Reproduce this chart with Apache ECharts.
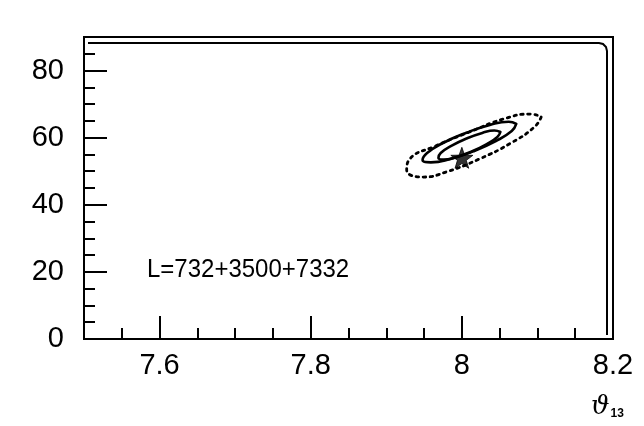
<!DOCTYPE html>
<html>
<head>
<meta charset="utf-8">
<script src="https://cdn.jsdelivr.net/npm/echarts@6/dist/echarts.min.js"></script>
<style>
  html, body { margin: 0; padding: 0; background: #fff; }
  #chart { width: 644px; height: 426px; }
</style>
</head>
<body>
<div id="chart"></div>
<script>
// Axis ticks
const xMajorTicks = [7.6, 7.8, 8.0, 8.2];
const xMinorTicks = [7.55, 7.65, 7.7, 7.75, 7.85, 7.9, 7.95, 8.05, 8.1, 8.15];
const yRange = [0, 90];
const xRange = [7.5, 8.2];

// Confidence contours in (theta13, y) — closed loops
const innerContour = [
  [8.051, 61.69], [8.047, 60.21], [8.033, 58.08], [8.013, 55.89],
  [7.992, 54.20], [7.976, 53.48], [7.969, 53.93], [7.972, 55.41],
  [7.986, 57.53], [8.006, 59.73], [8.027, 61.41], [8.043, 62.13],
  [8.051, 61.69]
];
const middleContour = [
  [8.072, 64.09], [8.066, 61.98], [8.045, 58.99], [8.015, 55.92],
  [7.984, 53.60], [7.959, 52.65], [7.948, 53.31], [7.954, 55.42],
  [7.975, 58.41], [8.006, 61.48], [8.037, 63.80], [8.062, 64.76],
  [8.072, 64.09]
];
const outerContour = [
  [8.105, 66.15], [8.096, 63.17], [8.065, 58.40], [8.023, 53.64],
  [7.979, 49.76], [7.949, 48.27], [7.927, 50.36], [7.931, 53.64],
  [7.965, 57.51], [8.010, 61.68], [8.055, 65.55], [8.091, 67.04],
  [8.105, 66.15]
];
// Input (true) point
const truePoint = [[8.0, 54.0]];

const baselineLabel = 'L=732+3500+7332';

const FONT = '"Liberation Sans", Arial, sans-serif';
const starPath = 'path://M0,-10L2.35,-3.24L9.51,-3.09L3.8,1.24L5.88,8.09L0,4L-5.88,8.09L-3.8,1.24L-9.51,-3.09L-2.35,-3.24Z';

const chart = echarts.init(document.getElementById('chart'), null, { renderer: 'canvas' });

const contourLine = (data, type) => ({
  type: 'line',
  data: data,
  smooth: 0.5,
  symbol: 'none',
  silent: true,
  animation: false,
  lineStyle: { color: '#000', width: type === 'solid' ? 2.6 : 2.8, type: type, cap: 'round' },
  z: 3
});

chart.setOption({
  backgroundColor: '#fff',
  animation: false,
  grid: {
    left: 84, right: 31, top: 37, bottom: 87,
    show: true, borderColor: '#000', borderWidth: 2, backgroundColor: 'transparent'
  },
  xAxis: [
    {
      type: 'value', min: xRange[0], max: xRange[1], position: 'bottom',
      axisLine: { show: false },
      splitLine: { show: false },
      axisTick: { show: true, inside: true, length: 23, customValues: xMajorTicks,
                  lineStyle: { color: '#000', width: 2 } },
      axisLabel: { customValues: xMajorTicks, margin: 12, color: '#000',
                   fontFamily: FONT, fontSize: 29 }
    },
    {
      type: 'value', min: xRange[0], max: xRange[1], position: 'bottom',
      axisLine: { show: false },
      splitLine: { show: false },
      axisTick: { show: true, inside: true, length: 11, customValues: xMinorTicks,
                  lineStyle: { color: '#000', width: 2 } },
      axisLabel: { show: false }
    }
  ],
  yAxis: {
    type: 'value', min: yRange[0], max: yRange[1], interval: 20,
    axisLine: { show: false },
    splitLine: { show: false },
    axisTick: { show: true, inside: true, length: 23, lineStyle: { color: '#000', width: 2 } },
    minorTick: { show: true, splitNumber: 4, length: 11, lineStyle: { color: '#000', width: 2 } },
    axisLabel: { showMaxLabel: false, margin: 20, color: '#000', fontFamily: FONT, fontSize: 29 }
  },
  graphic: [
    {
      // inner rounded frame line along the top and right edges
      type: 'polyline',
      shape: { points: [[88, 43], [599, 43], [603, 44], [606, 47], [607, 51], [607, 335]] },
      style: { stroke: '#000', lineWidth: 2, fill: null },
      silent: true
    },
    {
      type: 'text', x: 147, y: 257, scaleY: 1.1, silent: true,
      style: { text: baselineLabel, fill: '#000', font: '24px ' + FONT }
    },
    {
      type: 'text', left: 591, top: 394, silent: true,
      style: {
        text: '{t|ϑ}{s|13}',
        rich: {
          t: { fontFamily: '"DejaVu Serif", serif', fontStyle: 'italic', fontSize: 26, fill: '#000', verticalAlign: 'bottom' },
          s: { fontFamily: FONT, fontWeight: 'bold', fontSize: 12, fill: '#000', padding: [14, 0, 0, 1] }
        }
      }
    }
  ],
  series: [
    contourLine(outerContour, [2.5, 4.5]),
    contourLine(middleContour, 'solid'),
    contourLine(innerContour, 'solid'),
    {
      type: 'scatter',
      data: truePoint,
      symbol: starPath,
      symbolSize: 22,
      symbolKeepAspect: true,
      itemStyle: { color: '#000', borderColor: '#000', borderWidth: 1 },
      silent: true,
      z: 4
    }
  ]
});
</script>
</body>
</html>
